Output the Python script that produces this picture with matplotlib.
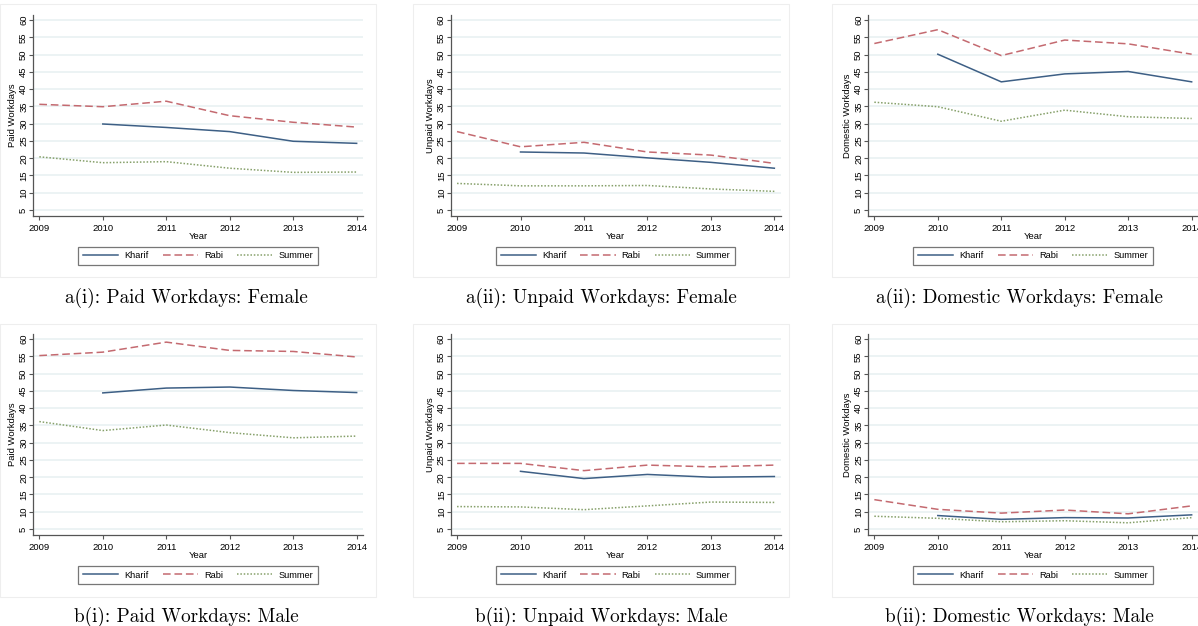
import numpy as np
import matplotlib
matplotlib.use("Agg")
import matplotlib.pyplot as plt
from matplotlib.patches import Rectangle

years = [2009, 2010, 2011, 2012, 2013, 2014]
series_names = ["Kharif", "Rabi", "Summer"]
nan = np.nan

# Female
paid_f_kharif = [nan, 29.9, 28.9, 27.7, 24.9, 24.3]
paid_f_rabi = [35.6, 34.9, 36.5, 32.3, 30.4, 29.0]
paid_f_summer = [20.4, 18.7, 19.0, 17.1, 15.9, 16.0]

unpaid_f_kharif = [nan, 21.8, 21.5, 20.1, 18.8, 17.1]
unpaid_f_rabi = [27.7, 23.3, 24.6, 21.8, 20.9, 18.5]
unpaid_f_summer = [12.7, 12.0, 12.0, 12.1, 11.1, 10.4]

dom_f_kharif = [nan, 50.1, 42.1, 44.4, 45.1, 42.1]
dom_f_rabi = [53.2, 57.2, 49.7, 54.2, 53.1, 50.1]
dom_f_summer = [36.2, 34.9, 30.7, 33.9, 32.0, 31.5]

# Male
paid_m_kharif = [nan, 44.4, 45.8, 46.1, 45.1, 44.5]
paid_m_rabi = [55.2, 56.2, 59.1, 56.7, 56.4, 54.8]
paid_m_summer = [36.1, 33.5, 35.1, 32.9, 31.4, 31.9]

unpaid_m_kharif = [nan, 21.7, 19.6, 20.8, 20.0, 20.2]
unpaid_m_rabi = [24.0, 24.0, 21.9, 23.5, 23.0, 23.5]
unpaid_m_summer = [11.5, 11.4, 10.6, 11.7, 12.8, 12.7]

dom_m_kharif = [nan, 8.9, 7.8, 8.3, 8.2, 9.1]
dom_m_rabi = [13.5, 10.7, 9.6, 10.5, 9.4, 11.7]
dom_m_summer = [8.7, 8.1, 7.1, 7.4, 6.8, 8.3]

yticks = list(range(5, 61, 5))
ylabels = ["Paid Workdays", "Unpaid Workdays", "Domestic Workdays"]
captions = [
    ["a(i): Paid Workdays: Female", "a(ii): Unpaid Workdays: Female", "a(ii): Domestic Workdays: Female"],
    ["b(i): Paid Workdays: Male", "b(ii): Unpaid Workdays: Male", "b(ii): Domestic Workdays: Male"],
]
data = [
    [(paid_f_kharif, paid_f_rabi, paid_f_summer),
     (unpaid_f_kharif, unpaid_f_rabi, unpaid_f_summer),
     (dom_f_kharif, dom_f_rabi, dom_f_summer)],
    [(paid_m_kharif, paid_m_rabi, paid_m_summer),
     (unpaid_m_kharif, unpaid_m_rabi, unpaid_m_summer),
     (dom_m_kharif, dom_m_rabi, dom_m_summer)],
]

colors = ["#3d5f85", "#c46a70", "#86a06a"]
styles = ["-", (0, (5, 2.5)), (0, (1, 1.2))]
widths = [1.1, 1.1, 1.1]

W, H = 1198, 626
fig = plt.figure(figsize=(W / 100, H / 100), dpi=100)
fig.patch.set_facecolor("white")

sans = ["Liberation Sans", "DejaVu Sans"]
fs = 6.8

lefts = [33, 450.7, 868]
tops = [15, 334]
aw, ah = 330, 201
box_lefts = [0, 413, 832]
box_tops = [4, 324]
box_w, box_h = 376, 273
cap_x = [186, 601, 1019]
cap_y = [298, 617]

for r in range(2):
    for c in range(3):
        # faint panel frame
        fig.patches.append(Rectangle((box_lefts[c] / W, 1 - (box_tops[r] + box_h) / H),
                                     box_w / W, box_h / H, transform=fig.transFigure,
                                     facecolor="none", edgecolor="#eeeeee", linewidth=0.8))
        ax = fig.add_axes([lefts[c] / W, 1 - (tops[r] + ah) / H, aw / W, ah / H])
        k, rb, sm = data[r][c]
        for vals, name, col, ls, lw in zip((k, rb, sm), series_names, colors, styles, widths):
            ax.plot(years, vals, color=col, linestyle=ls, linewidth=lw, label=name)
        ax.set_xlim(2008.9, 2014.1)
        ax.set_ylim(3.27, 61.45)
        ax.set_yticks(yticks)
        ax.set_xticks(years)
        ax.grid(axis="y", color="#eaf2f3", linewidth=1.3)
        ax.set_axisbelow(True)
        for s in ["top", "right"]:
            ax.spines[s].set_visible(False)
        for s in ["left", "bottom"]:
            ax.spines[s].set_color("#555555")
            ax.spines[s].set_linewidth(0.9)
        ax.tick_params(axis="both", direction="out", length=3.2, width=0.8, color="#555555",
                       labelsize=fs)
        ax.tick_params(axis="y", pad=0.3)
        ax.tick_params(axis="x", pad=2.5)
        for lab in ax.get_yticklabels():
            lab.set_rotation(90)
            lab.set_va("center")
            lab.set_family(sans)
        for lab in ax.get_xticklabels():
            lab.set_family(sans)
        ax.text(-20.3 / aw, 0.5, ylabels[c], rotation=90, ha="center", va="center",
                transform=ax.transAxes, fontsize=fs, family=sans)
        ax.text(0.5, -20.7 / ah, "Year", ha="center", va="center",
                transform=ax.transAxes, fontsize=fs, family=sans)
        leg = ax.legend(loc="center", bbox_to_anchor=(0.5, -40 / ah), ncol=3,
                        frameon=True, fancybox=False, edgecolor="#555555",
                        prop={"family": sans, "size": 6.7}, handlelength=3.8,
                        columnspacing=1.5, handletextpad=0.65, borderpad=0.5)
        leg.get_frame().set_linewidth(0.9)
        fig.text(cap_x[c] / W, 1 - cap_y[r] / H, captions[r][c], ha="center", va="center",
                 fontsize=13.8, family=["cmr10", "DejaVu Serif"])

fig.savefig("out.png", dpi=100, facecolor="white")
